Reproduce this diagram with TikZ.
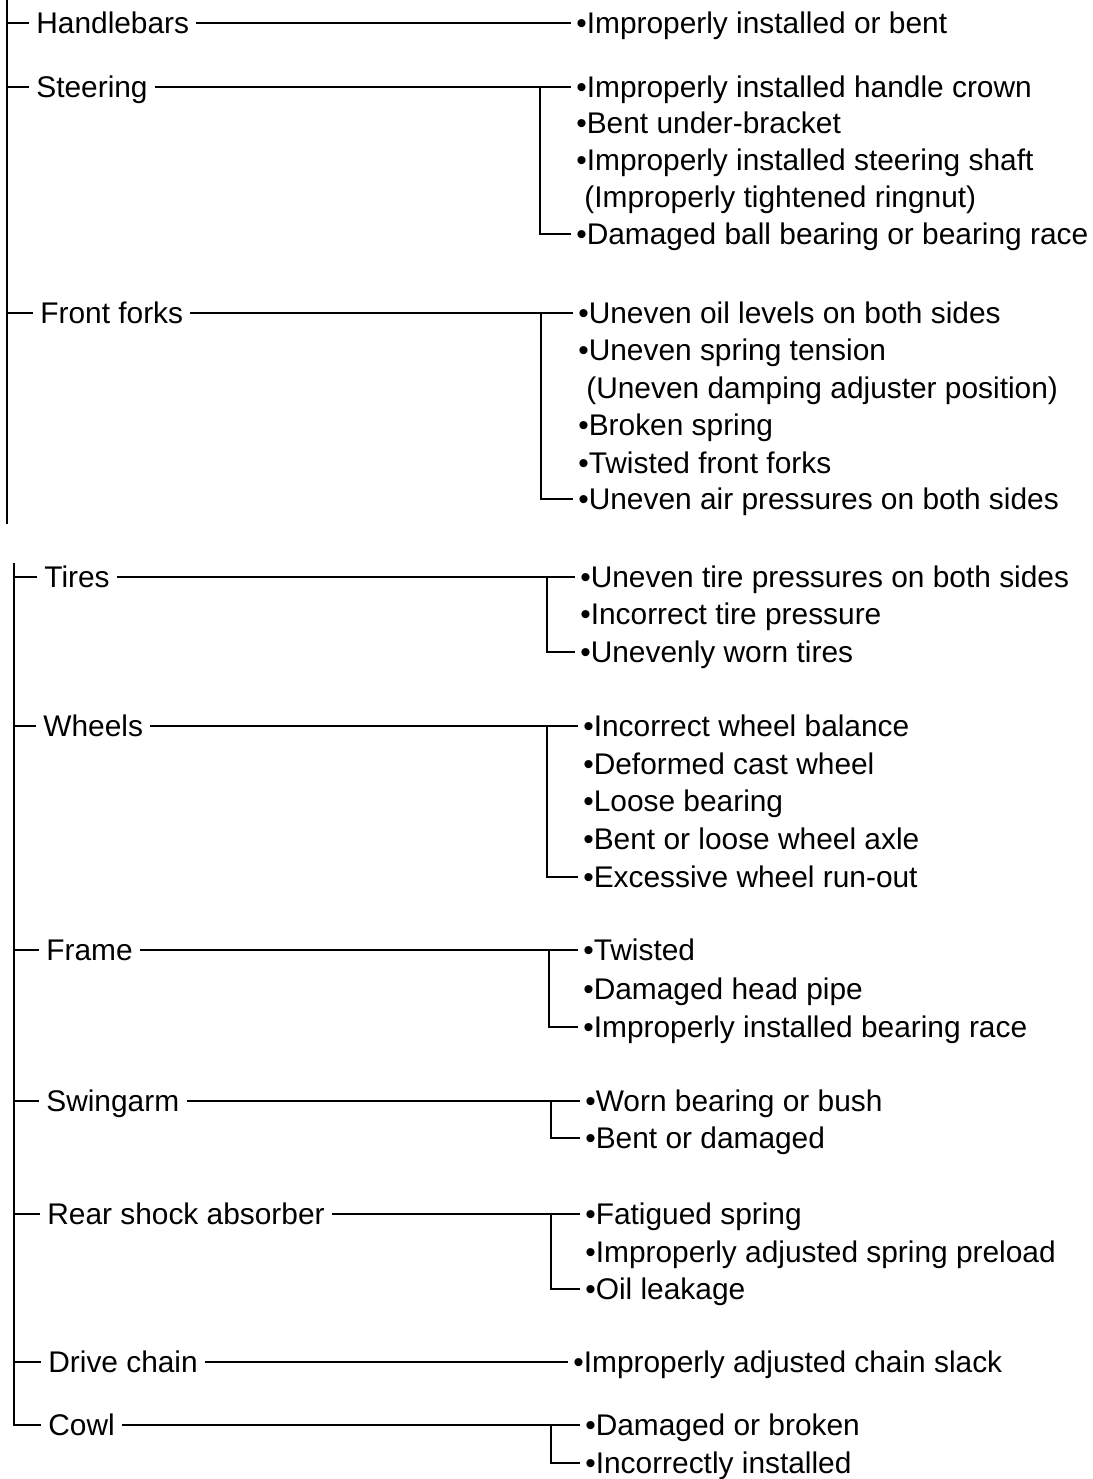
\documentclass[tikz,border=0pt]{standalone}
\usepackage{fontspec}
\setmainfont{Liberation Sans}
\usetikzlibrary{positioning}

\tikzset{
    catnode/.style={anchor=west, inner xsep=1.4mm, inner ysep=0pt, text height=12pt, text depth=0pt, font=\fontsize{17}{20}\selectfont},
    itemnode/.style={anchor=west, inner xsep=1mm, inner ysep=0pt, text height=12pt, text depth=0pt, font=\fontsize{17}{20}\selectfont},
    wire/.style={draw=black, line width=1.5pt},
    thinwire/.style={draw=black, line width=1.1pt}
}

\begin{document}
\begin{tikzpicture}[x=0.2mm, y=-0.2mm]
    \useasboundingbox (0,0) rectangle (1093,1479);

    % upper spine
    \coordinate (cSpineA) at (7,0);
    \coordinate (cSpineAEnd) at (7,524);
    \draw[wire] (cSpineA) -- (cSpineAEnd);

    % lower spine
    \coordinate (cSpineB) at (14,563);

    % Handlebars
    \node[catnode] (ndHandlebars) at (29,23) {Handlebars};
    \node[itemnode] (ndHandlebarsA) at (571,23) {•Improperly installed or bent};
    \draw[wire] (cSpineA |- ndHandlebars.west) -- (ndHandlebars.west);
    \draw[wire] (ndHandlebars.east) -- (ndHandlebarsA.west);

    % Steering
    \node[catnode] (ndSteering) at (29,87) {Steering};
    \node[itemnode] (ndSteerA) at (571,87) {•Improperly installed handle crown};
    \node[itemnode] (ndSteerB) at (571,123) {•Bent under-bracket};
    \node[itemnode] (ndSteerC) at (571,160) {•Improperly installed steering shaft};
    \node[itemnode] (ndSteerCnote) at (579,197) {(Improperly tightened ringnut)};
    \node[itemnode] (ndSteerD) at (571,234) {•Damaged ball bearing or bearing race};
    \coordinate (cBrSteer) at (540,87);
    \draw[wire] (cSpineA |- ndSteering.west) -- (ndSteering.west);
    \draw[wire] (ndSteering.east) -- (ndSteerA.west);
    \draw[thinwire] (cBrSteer) -- (cBrSteer |- ndSteerD.west) -- (ndSteerD.west);

    % Front forks
    \node[catnode] (ndForks) at (33,313) {Front forks};
    \node[itemnode] (ndForksA) at (573,313) {•Uneven oil levels on both sides};
    \node[itemnode] (ndForksB) at (573,350) {•Uneven spring tension};
    \node[itemnode] (ndForksBnote) at (581,388) {(Uneven damping adjuster position)};
    \node[itemnode] (ndForksC) at (573,425) {•Broken spring};
    \node[itemnode] (ndForksD) at (573,463) {•Twisted front forks};
    \node[itemnode] (ndForksE) at (573,499) {•Uneven air pressures on both sides};
    \coordinate (cBrForks) at (541,313);
    \draw[wire] (cSpineA |- ndForks.west) -- (ndForks.west);
    \draw[wire] (ndForks.east) -- (ndForksA.west);
    \draw[thinwire] (cBrForks) -- (cBrForks |- ndForksE.west) -- (ndForksE.west);

    % Tires
    \node[catnode] (ndTires) at (37,577) {Tires};
    \node[itemnode] (ndTiresA) at (575,577) {•Uneven tire pressures on both sides};
    \node[itemnode] (ndTiresB) at (575,614) {•Incorrect tire pressure};
    \node[itemnode] (ndTiresC) at (575,652) {•Unevenly worn tires};
    \coordinate (cBrTires) at (547,577);
    \draw[wire] (cSpineB |- ndTires.west) -- (ndTires.west);
    \draw[wire] (ndTires.east) -- (ndTiresA.west);
    \draw[thinwire] (cBrTires) -- (cBrTires |- ndTiresC.west) -- (ndTiresC.west);

    % Wheels
    \node[catnode] (ndWheels) at (36,726) {Wheels};
    \node[itemnode] (ndWheelsA) at (578,726) {•Incorrect wheel balance};
    \node[itemnode] (ndWheelsB) at (578,764) {•Deformed cast wheel};
    \node[itemnode] (ndWheelsC) at (578,801) {•Loose bearing};
    \node[itemnode] (ndWheelsD) at (578,839) {•Bent or loose wheel axle};
    \node[itemnode] (ndWheelsE) at (578,877) {•Excessive wheel run-out};
    \coordinate (cBrWheels) at (547,726);
    \draw[wire] (cSpineB |- ndWheels.west) -- (ndWheels.west);
    \draw[wire] (ndWheels.east) -- (ndWheelsA.west);
    \draw[thinwire] (cBrWheels) -- (cBrWheels |- ndWheelsE.west) -- (ndWheelsE.west);

    % Frame
    \node[catnode] (ndFrame) at (39,950) {Frame};
    \node[itemnode] (ndFrameA) at (578,950) {•Twisted};
    \node[itemnode] (ndFrameB) at (578,989) {•Damaged head pipe};
    \node[itemnode] (ndFrameC) at (578,1027) {•Improperly installed bearing race};
    \coordinate (cBrFrame) at (549,950);
    \draw[wire] (cSpineB |- ndFrame.west) -- (ndFrame.west);
    \draw[wire] (ndFrame.east) -- (ndFrameA.west);
    \draw[thinwire] (cBrFrame) -- (cBrFrame |- ndFrameC.west) -- (ndFrameC.west);

    % Swingarm
    \node[catnode] (ndSwingarm) at (39,1101) {Swingarm};
    \node[itemnode] (ndSwingarmA) at (580,1101) {•Worn bearing or bush};
    \node[itemnode] (ndSwingarmB) at (580,1138) {•Bent or damaged};
    \coordinate (cBrSwingarm) at (551,1101);
    \draw[wire] (cSpineB |- ndSwingarm.west) -- (ndSwingarm.west);
    \draw[wire] (ndSwingarm.east) -- (ndSwingarmA.west);
    \draw[thinwire] (cBrSwingarm) -- (cBrSwingarm |- ndSwingarmB.west) -- (ndSwingarmB.west);

    % Rear shock absorber
    \node[catnode] (ndShock) at (40,1214) {Rear shock absorber};
    \node[itemnode] (ndShockA) at (580,1214) {•Fatigued spring};
    \node[itemnode] (ndShockB) at (580,1252) {•Improperly adjusted spring preload};
    \node[itemnode] (ndShockC) at (580,1289) {•Oil leakage};
    \coordinate (cBrShock) at (551,1214);
    \draw[wire] (cSpineB |- ndShock.west) -- (ndShock.west);
    \draw[wire] (ndShock.east) -- (ndShockA.west);
    \draw[thinwire] (cBrShock) -- (cBrShock |- ndShockC.west) -- (ndShockC.west);

    % Drive chain
    \node[catnode] (ndChain) at (41,1362) {Drive chain};
    \node[itemnode] (ndChainA) at (568,1362) {•Improperly adjusted chain slack};
    \draw[wire] (cSpineB |- ndChain.west) -- (ndChain.west);
    \draw[wire] (ndChain.east) -- (ndChainA.west);

    % Cowl
    \node[catnode] (ndCowl) at (41,1425) {Cowl};
    \node[itemnode] (ndCowlA) at (580,1425) {•Damaged or broken};
    \node[itemnode] (ndCowlB) at (580,1463) {•Incorrectly installed};
    \coordinate (cBrCowl) at (551,1425);
    \draw[wire] (cSpineB) -- (cSpineB |- ndCowl.west) -- (ndCowl.west);
    \draw[wire] (ndCowl.east) -- (ndCowlA.west);
    \draw[thinwire] (cBrCowl) -- (cBrCowl |- ndCowlB.west) -- (ndCowlB.west);
\end{tikzpicture}
\end{document}
